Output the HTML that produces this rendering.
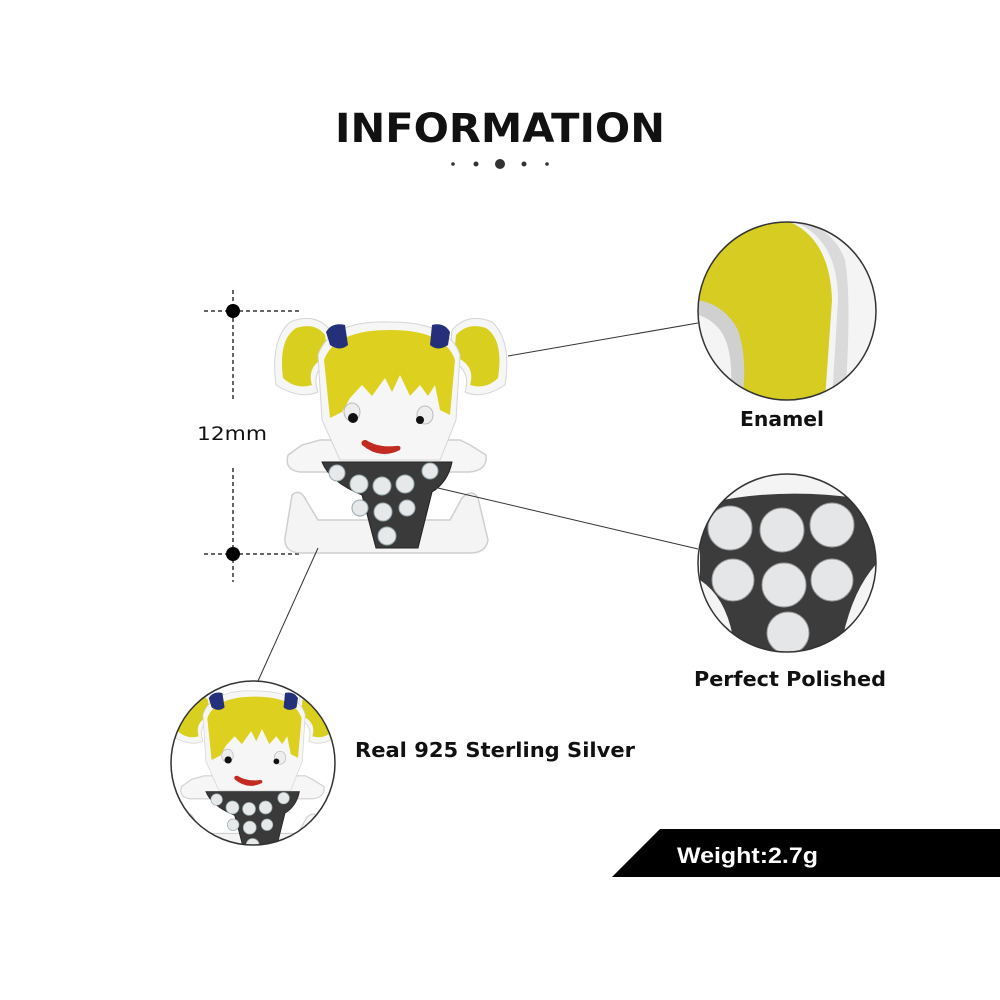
<!DOCTYPE html>
<html><head><meta charset="utf-8"><style>
html,body{margin:0;padding:0;background:#fff;}
svg{display:block}
text{font-family:"DejaVu Sans","Liberation Sans",sans-serif;font-weight:bold;fill:#111}
</style></head><body>
<svg width="1000" height="1000" viewBox="0 0 1000 1000" xmlns="http://www.w3.org/2000/svg">
<defs>
<g id="girl">
  <path d="M292,495 Q300,488 306,500 L318,520 L450,520 L462,498 Q472,488 478,498 L488,540 Q486,553 470,553 L300,553 Q284,552 285,538 Z" fill="#f4f4f4" stroke="#cfcfcf" stroke-width="1.5"/>
  <path d="M288,455 Q284,470 300,472 L470,472 Q488,470 486,455 L470,445 L460,440 L320,440 L302,445 Z" fill="#f6f6f6" stroke="#cfcfcf" stroke-width="1.5"/>
  <path d="M276,385 Q270,340 290,322 Q315,312 330,330 L332,360 Q310,370 318,392 Q300,400 276,385 Z" fill="#f6f6f6" stroke="#d5d5d5"/>
  <path d="M283,378 Q278,340 296,328 Q315,322 325,335 L328,356 Q306,365 312,385 Q296,390 283,378 Z" fill="#d8cf1e"/>
  <path d="M505,385 Q512,340 492,322 Q468,312 452,330 L450,360 Q472,370 465,392 Q482,400 505,385 Z" fill="#f6f6f6" stroke="#d5d5d5"/>
  <path d="M498,378 Q504,340 486,328 Q468,322 456,335 L454,356 Q476,365 470,385 Q486,390 498,378 Z" fill="#d8cf1e"/>
  <path d="M318,355 Q330,320 390,322 Q450,322 460,355 L456,420 L440,460 L340,460 L322,420 Z" fill="#f6f6f6" stroke="#d5d5d5"/>
  <path d="M324,360 Q335,330 390,330 Q445,330 455,360 L450,415 L440,410 L435,385 L428,396 L420,385 L410,396 L400,375 L392,392 L385,378 L372,396 L362,385 L350,398 L342,412 L330,418 Z" fill="#ddd01e"/>
  <path d="M326,332 Q332,322 345,325 L348,345 Q340,352 330,345 Z" fill="#25307a"/>
  <path d="M450,332 Q444,322 432,325 L430,345 Q438,352 448,345 Z" fill="#25307a"/>
  <ellipse cx="352" cy="412" rx="8" ry="9" fill="#eee" stroke="#bbb"/>
  <circle cx="353" cy="418" r="5" fill="#111"/>
  <ellipse cx="425" cy="415" rx="8" ry="9" fill="#eee" stroke="#bbb"/>
  <circle cx="420" cy="420" r="4" fill="#111"/>
  <path d="M362,445 Q380,460 400,450 Q402,445 396,446 Q378,448 366,440 Q360,440 362,445 Z" fill="#c22a22"/>
  <path d="M322,462 L452,462 Q448,482 432,492 L418,548 L376,548 L362,495 Q330,482 322,462 Z" fill="#3a3a3a" stroke="#222"/>
  <g fill="#e6e8ea" stroke="#9aa" stroke-width="1">
    <circle cx="337" cy="473" r="8"/><circle cx="359" cy="484" r="9"/><circle cx="382" cy="486" r="9"/><circle cx="405" cy="484" r="9"/><circle cx="430" cy="471" r="8"/>
    <circle cx="360" cy="508" r="8"/><circle cx="383" cy="512" r="9"/><circle cx="407" cy="508" r="8"/>
    <circle cx="387" cy="536" r="9"/>
  </g>
</g>
<clipPath id="c1"><circle cx="787" cy="311" r="89"/></clipPath>
<clipPath id="c2"><circle cx="787" cy="563" r="89"/></clipPath>
<clipPath id="c3"><circle cx="253" cy="763" r="82"/></clipPath>
</defs>

<text x="335" y="142" font-size="40" textLength="330" lengthAdjust="spacingAndGlyphs">INFORMATION</text>
<g fill="#333"><circle cx="453" cy="164" r="1.8"/><circle cx="476" cy="164" r="2.5"/><circle cx="500" cy="164" r="5"/><circle cx="524" cy="164" r="2.5"/><circle cx="547" cy="164" r="1.8"/></g>

<g stroke="#333" stroke-width="1.5" stroke-dasharray="4,3" fill="none">
  <line x1="204" y1="311" x2="300" y2="311"/>
  <line x1="204" y1="554" x2="300" y2="554"/>
  <line x1="233" y1="290" x2="233" y2="402"/>
  <line x1="233" y1="468" x2="233" y2="582"/>
</g>
<circle cx="233" cy="311" r="7" fill="#000"/>
<circle cx="233" cy="554" r="7" fill="#000"/>
<text x="197" y="440" font-size="19" style="font-weight:normal" textLength="70" lengthAdjust="spacingAndGlyphs">12mm</text>

<use href="#girl"/>

<g stroke="#333" stroke-width="1">
  <line x1="508" y1="356" x2="698" y2="323"/>
  <line x1="438" y1="488" x2="698" y2="549"/>
  <line x1="318" y1="548" x2="258" y2="681"/>
</g>

<g clip-path="url(#c1)">
  <rect x="690" y="215" width="200" height="200" fill="#f4f4f4"/>
  <path d="M735,222 L790,222 Q830,240 832,300 L825,400 L740,400 Q745,350 732,330 Q715,315 698,300 L698,222 Z" fill="#d6cc22"/>
  <path d="M795,222 Q838,240 838,300 L832,400 L845,400 Q852,300 845,260 Q835,232 805,222 Z" fill="#dadada"/>
  <path d="M698,300 Q725,305 738,330 Q748,360 742,400 L730,400 Q735,350 720,330 Q710,318 698,315 Z" fill="#d0d0d0"/>
</g>
<circle cx="787" cy="311" r="89" fill="none" stroke="#333" stroke-width="1.5"/>
<text x="740" y="426" font-size="20" textLength="84" lengthAdjust="spacingAndGlyphs">Enamel</text>

<g clip-path="url(#c2)">
  <rect x="690" y="470" width="200" height="190" fill="#f4f4f4"/>
  <path d="M700,505 Q780,485 870,500 L880,560 Q850,590 840,652 L735,652 Q730,600 700,580 Z" fill="#3c3c3c"/>
  <g fill="#e4e6e8" stroke="#999">
    <circle cx="730" cy="528" r="22"/><circle cx="782" cy="530" r="22"/><circle cx="832" cy="525" r="22"/>
    <circle cx="733" cy="580" r="21"/><circle cx="784" cy="585" r="22"/><circle cx="832" cy="580" r="21"/>
    <circle cx="788" cy="633" r="21"/>
  </g>
</g>
<circle cx="787" cy="563" r="89" fill="none" stroke="#333" stroke-width="1.5"/>
<text x="694" y="686" font-size="20" textLength="192" lengthAdjust="spacingAndGlyphs">Perfect  Polished</text>

<g clip-path="url(#c3)">
  <rect x="160" y="670" width="190" height="190" fill="#fff"/>
  <use href="#girl" transform="translate(-26,459) scale(0.72)"/>
</g>
<circle cx="253" cy="763" r="82" fill="none" stroke="#333" stroke-width="1.5"/>
<text x="355" y="757" font-size="20" textLength="280" lengthAdjust="spacingAndGlyphs">Real 925  Sterling  Silver</text>

<polygon points="660,829 1000,829 1000,877 612,877" fill="#000"/>
<text x="677" y="863" font-size="22" textLength="141" lengthAdjust="spacingAndGlyphs" style="fill:#fff;font-family:'Liberation Sans',sans-serif">Weight:2.7g</text>
</svg>
</body></html>
